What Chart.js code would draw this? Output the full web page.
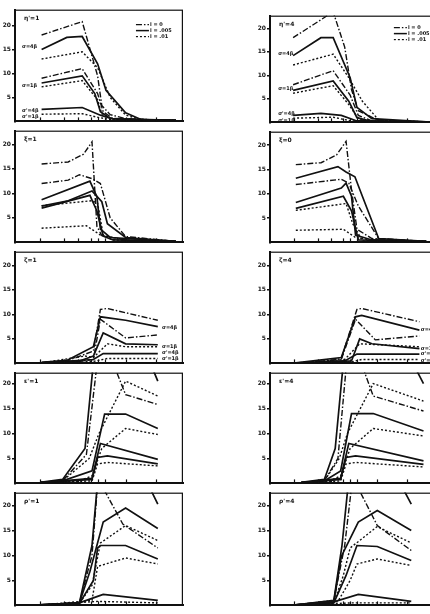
<!DOCTYPE html>
<html>
<head>
<meta charset="utf-8">
<script src="https://cdn.jsdelivr.net/npm/chart.js@4.4.1/dist/chart.umd.min.js"></script>
<style>
  html, body { margin: 0; padding: 0; background: #fff; overflow: hidden; width: 430px; height: 614px; }
  canvas { position: absolute; }
</style>
</head>
<body>
<script>
// ---- data (y in axis units, x in panel units 0..12) ----
const xTicks = [1.8, 3.5, 4.5, 5.4, 5.9, 6.4, 7.9, 10.1];
const yTicks = [5, 10, 15, 20];
const yMax = [23.3, 22.7, 22.8, 22.8, 22.8, 22.8, 22.2, 22.2, 22.6, 22.6];

const panelTitles = ["η'=1", "η'=4", "ξ=1", "ξ=0", "ζ=1", "ζ=4", "ε'=1", "ε'=4", "ρ'=1", "ρ'=4"];
const legendLabels = ["l = 0", "l = .005", "l = .01"];
const groupLabels = ["σ=4β", "σ=1β", "σ'=4β", "σ'=1β"];

// line kinds per series: dd = dash-dot, s = solid, d = dotted
const kindsTop = ["dd", "s", "d", "dd", "s", "d", "s", "d"];
const kindsLow = ["dd", "s", "dd", "s", "d", "s", "d"];
const kindsHigh = ["dd", "s", "d", "s", "d", "s", "s", "d"];

const p1 = [
  [[1.9,18],[4.8,20.8],[5.9,9.5],[6.2,3.3],[6.8,1.4],[8,0.5],[11.5,0.2]],
  [[1.9,15],[3.7,17.5],[4.8,17.7],[5.9,12],[6.5,6.5],[7.9,1.8],[9,0.4],[11.5,0.2]],
  [[1.9,13],[4.8,14.5],[5.9,11.2],[6.8,5],[7.9,1.3],[9,0.4],[11.5,0.2]],
  [[1.9,9],[4.8,11],[5.9,5.8],[6.3,2],[7,0.6],[11.5,0.2]],
  [[1.9,8],[4.8,9.5],[5.7,5.8],[6.1,2],[6.8,0.6],[11.5,0.2]],
  [[1.9,7.2],[4.8,8.5],[5.9,4.5],[6.2,1.6],[7,0.5],[11.5,0.2]],
  [[1.9,2.5],[4.8,2.9],[6.1,1.3],[7,0.5],[11.5,0.2]],
  [[1.9,1.5],[4.8,1.6],[6,0.8],[7,0.3],[11.5,0.1]]
];
const p2 = [
  [[1.7,18],[4.65,23.5],[5.5,16],[6.0,7],[6.5,2.5],[8,0.4],[11.5,0.1]],
  [[1.7,14.2],[3.75,18],[4.65,18],[5.9,9.5],[6.4,3.2],[7.5,0.8],[11.5,0.1]],
  [[1.7,12.2],[4.65,14.5],[5.8,9.5],[6.8,4.5],[8,0.5],[11.5,0.1]],
  [[1.7,8],[4.65,11],[5.9,5.8],[6.5,1.5],[7.5,0.3],[11.5,0.1]],
  [[1.7,6.8],[4.65,8.8],[5.8,4.5],[6.4,1],[7.5,0.2],[11.5,0.1]],
  [[1.7,6.2],[4.65,7.8],[5.8,3.8],[6.5,0.8],[7.5,0.2],[11.5,0.1]],
  [[1.7,1.5],[3.75,1.9],[5.25,1.5],[6.3,0.4],[11.5,0.1]],
  [[1.7,0.9],[4.65,1.1],[6,0.3],[11.5,0.05]]
];
const p3 = [
  [[1.9,16],[3.8,16.4],[4.9,18],[5.5,20.5],[5.85,3.3],[6.2,1.4],[7.9,0.5],[11.5,0.2]],
  [[1.9,7.4],[3.8,8.5],[5.5,10.5],[6.2,8.3],[6.6,3.8],[7.9,1],[11.5,0.2]],
  [[1.9,12],[3.8,12.7],[4.6,13.8],[5.5,13],[6.1,12],[6.8,5],[7.9,1.2],[11.5,0.2]],
  [[1.9,8.7],[5.35,12.5],[5.85,9.3],[6.1,2.7],[6.8,1],[11.5,0.2]],
  [[1.9,7.5],[5.5,8.5],[5.9,8],[6.3,1.5],[7,0.5],[11.5,0.2]],
  [[1.9,7],[5.35,9.6],[5.85,6.4],[6.3,1.3],[7,0.5],[11.5,0.2]],
  [[1.9,2.9],[5.1,3.4],[6.1,1.5],[7.9,0.5],[11.5,0.2]]
];
const p4 = [
  [[1.9,16],[3.76,16.4],[4.9,18],[5.6,20.8],[6.0,10.8],[6.4,2.7],[7.5,0.8],[11.5,0.2]],
  [[1.9,13.2],[5.0,15.6],[5.6,14.5],[6.25,13.5],[6.8,9.5],[8.0,0.8],[11.5,0.2]],
  [[1.9,11.9],[5.25,13],[5.8,12.2],[6.5,7.5],[8.0,0.8],[11.5,0.2]],
  [[1.9,8.2],[5.25,11.2],[5.6,12.2],[6.0,9.5],[6.3,1.5],[7.5,0.5],[11.5,0.2]],
  [[1.9,6.6],[5.6,8],[6.1,3.8],[6.8,0.3],[11.5,0.2]],
  [[1.9,7],[5.4,9.5],[6.0,6.5],[6.5,0.5],[11.5,0.2]],
  [[1.9,2.5],[5.4,2.7],[6.3,1],[8,0.3],[11.5,0.2]]
];
const p5 = [
  [[1.9,0.2],[3.7,0.5],[5.6,2.5],[6.1,11],[6.6,11.2],[10.2,8.8]],
  [[1.9,0.2],[3.7,0.6],[5.6,3.4],[6.1,9.5],[7.9,8.8],[10.2,7.5]],
  [[1.9,0.1],[4.6,0.4],[5.6,0.8],[6.1,9],[7.9,5.2],[10.2,5.8]],
  [[1.9,0.1],[4.6,0.5],[5.6,1.5],[6.3,6.2],[7.9,4],[10.2,3.8]],
  [[1.9,0.1],[5.0,1.5],[5.6,1.2],[6.6,4],[7.9,3.4],[10.2,3.4]],
  [[1.9,0.1],[5.6,0.8],[6.3,2],[10.2,2]],
  [[1.9,0.05],[5.6,0.4],[6.6,1],[10.2,1]]
];
const p6 = [
  [[1.9,0.1],[3.5,0.1],[5.25,1],[6.4,11],[6.75,11.2],[11.0,8.5]],
  [[1.9,0.1],[5.25,1.2],[6.3,9.5],[6.75,9.8],[11.0,6.8]],
  [[1.9,0.1],[5.25,0.8],[6.3,9],[7.75,4.8],[11.0,5.6]],
  [[1.9,0.05],[6.0,0.5],[6.6,5],[7.5,4],[11.0,3]],
  [[1.9,0.05],[5.5,0.8],[6.6,4],[11.0,3.4]],
  [[1.9,0.05],[5.5,0.5],[6.4,1.9],[11.0,1.9]],
  [[1.9,0.05],[6.0,0.3],[6.75,0.8],[11.0,0.8]]
];
const p7 = [
  [[1.8,0.2],[3.4,0.5],[5.1,5.8],[6.2,32],[7.3,22],[7.9,17.8],[10.2,15.8]],
  [[1.8,0.2],[3.4,0.5],[5.5,2.5],[6.4,13.9],[7.9,13.9],[10.2,11]],
  [[1.8,0.2],[3.4,0.5],[5.3,5],[6.0,10],[7.9,20.5],[10.2,17.5]],
  [[1.8,0.1],[5.5,1],[6.1,8],[10.2,4.8]],
  [[1.8,0.1],[4.6,0.5],[5.5,1.5],[6.2,7],[7.9,11],[10.2,9.8]],
  [[1.8,0.1],[5.5,0.8],[5.9,5.2],[6.6,5.5],[10.2,3.9]],
  [[1.8,0.2],[3.4,0.8],[5.0,7],[5.8,30],[8.5,32],[10.2,20.5]],
  [[1.8,0.05],[5.5,0.5],[5.9,3.9],[6.6,4.2],[10.2,3.5]]
];
const p8 = [
  [[2.3,0.2],[4.0,0.5],[5.0,5],[5.9,32],[7.0,22],[7.6,17.5],[11.3,14.5]],
  [[2.3,0.2],[4.0,0.5],[5.2,2.5],[6.0,14],[7.6,14],[11.3,10.5]],
  [[2.3,0.2],[4.0,0.5],[5.1,5],[5.7,10],[7.6,20],[11.3,16.5]],
  [[2.3,0.1],[5.2,1],[5.8,8],[11.3,4.5]],
  [[2.3,0.1],[4.4,0.5],[5.2,1.5],[5.9,7],[7.6,11],[11.3,9.5]],
  [[2.3,0.1],[5.2,0.8],[5.6,5.2],[6.3,5.5],[11.3,3.8]],
  [[2.3,0.2],[4.0,0.8],[4.8,7],[5.6,30],[9,32],[11.3,20]],
  [[2.3,0.05],[5.2,0.5],[5.6,3.9],[6.3,4.2],[11.3,3.3]]
];
const p9 = [
  [[1.8,0.1],[4.6,0.5],[5.5,10],[5.95,26],[6.2,24],[7.7,16.3],[10.2,11.5]],
  [[1.8,0.1],[4.6,0.5],[5.35,6.8],[6.3,16.7],[7.9,19.5],[10.2,15.4]],
  [[1.8,0.1],[4.6,0.4],[5.5,4],[6.1,12.5],[7.9,16],[10.2,13]],
  [[1.8,0.1],[4.6,0.4],[5.6,5],[5.9,11.5],[6.1,12],[7.9,12],[10.2,9.3]],
  [[1.8,0.05],[5.5,1],[5.9,7.8],[7.9,9.5],[10.2,8.3]],
  [[1.8,0.1],[4.6,0.5],[5.9,1.8],[6.3,2.2],[10.2,1]],
  [[1.8,0.1],[4.6,0.5],[5.5,12],[6.0,28],[8.5,30],[10.2,20.3]],
  [[1.8,0.05],[5.9,0.8],[10.2,0.5]]
];
const p10 = [
  [[1.9,0.1],[4.7,1],[5.5,12],[6.1,26],[6.4,24],[7.9,16],[10.4,11]],
  [[1.9,0.1],[4.7,0.8],[5.25,9.8],[6.5,16.7],[7.9,19],[10.4,15]],
  [[1.9,0.1],[4.7,0.5],[5.4,6],[5.9,11.5],[7.9,15.8],[10.4,12.5]],
  [[1.9,0.1],[4.7,0.5],[5.6,6],[6.4,12],[7.9,11.8],[10.4,9]],
  [[1.9,0.05],[5.0,0.8],[5.9,5],[6.4,8.3],[7.9,9.3],[10.4,8]],
  [[1.9,0.1],[4.7,0.7],[6.5,2.2],[10.4,0.8]],
  [[1.9,0.1],[4.7,1],[5.3,12],[5.9,28],[8.5,30],[10.4,20.3]],
  [[1.9,0.05],[6.0,0.5],[10.4,0.5]]
];

const panels = [p1, p2, p3, p4, p5, p6, p7, p8, p9, p10];
const panelKinds = [kindsTop, kindsTop, kindsLow, kindsLow, kindsLow, kindsLow, kindsHigh, kindsHigh, kindsHigh, kindsHigh];

// group labels: [panel, x, y, label index]
const groupNotes = [
  [0, 0.5, 15.6, 0], [0, 0.5, 7.5, 1], [0, 0.5, 2.3, 2], [0, 0.5, 1.0, 3],
  [1, 0.6, 14.7, 0], [1, 0.6, 7.2, 1], [1, 0.6, 1.8, 2], [1, 0.6, 0.4, 3],
  [4, 10.5, 7.3, 0], [4, 10.5, 3.4, 1], [4, 10.5, 2.1, 2], [4, 10.5, 0.9, 3],
  [5, 11.1, 6.8, 0], [5, 11.1, 3.0, 1], [5, 11.1, 1.9, 2], [5, 11.1, 0.6, 3]
];

// ---- layout ----
const leftRows = [[5, 126], [126, 247], [247, 368], [368, 488], [488, 610]];
const rightRows = [[11, 127], [127, 247], [247, 368], [368, 488], [488, 610]];
const dashes = { s: [], d: [2, 2], dd: [6, 2, 1.5, 2] };
const ink = "#111";
const textFont = "bold 6px 'DejaVu Sans'";

const decor = {
  id: "decor",
  afterDraw(chart) {
    const i = chart.options.panelIndex;
    const a = chart.chartArea;
    const ctx = chart.ctx;
    const xs = chart.scales.x, ys = chart.scales.y;
    ctx.save();
    ctx.strokeStyle = ink;
    ctx.lineWidth = 1.2;
    ctx.strokeRect(a.left, a.top + 0.6, a.right - a.left - 0.6, a.bottom - a.top - 0.6);

    // short tick marks standing up from the bottom edge
    ctx.lineWidth = 1.2;
    xTicks.forEach(v => {
      const px = Math.round(xs.getPixelForValue(v)) + 0.5;
      ctx.beginPath();
      ctx.moveTo(px, a.bottom);
      ctx.lineTo(px, a.bottom - 4);
      ctx.stroke();
    });

    ctx.fillStyle = ink;
    ctx.font = textFont;
    ctx.textBaseline = "middle";
    ctx.textAlign = "left";
    ctx.fillText(panelTitles[i], a.left + 9, a.top + 9);

    if (i < 2) {
      const lx = a.left + (a.right - a.left) * (i === 0 ? 0.72 : 0.76);
      const ly = a.top + (i === 0 ? 15 : 12);
      ["dd", "s", "d"].forEach((k, j) => {
        const y = ly + j * 6;
        ctx.setLineDash(dashes[k]);
        ctx.lineWidth = k === "s" ? 1.5 : 1.2;
        ctx.beginPath();
        ctx.moveTo(lx, y);
        ctx.lineTo(lx + 13, y);
        ctx.stroke();
        ctx.setLineDash([]);
        ctx.font = "bold 5px 'DejaVu Sans'";
        ctx.fillText(legendLabels[j], lx + 14, y);
      });
    }

    ctx.font = "bold 5px 'DejaVu Sans'";
    groupNotes.filter(n => n[0] === i).forEach(n => {
      ctx.fillText(groupLabels[n[3]], xs.getPixelForValue(n[1]), ys.getPixelForValue(n[2]));
    });
    ctx.restore();
  }
};

function makePanel(i) {
  const col = i % 2, row = Math.floor(i / 2);
  const box = col === 0 ? leftRows[row] : rightRows[row];
  const cv = document.createElement("canvas");
  const w = col === 0 ? 185 : 178;
  cv.width = w;
  cv.height = box[1] - box[0];
  cv.style.left = (col === 0 ? 0 : 255) + "px";
  cv.style.top = box[0] + "px";
  document.body.appendChild(cv);

  const kinds = panelKinds[i];
  new Chart(cv.getContext("2d"), {
    type: "line",
    data: {
      datasets: panels[i].map((pts, k) => ({
        data: pts.map(p => ({ x: p[0], y: p[1] })),
        borderColor: ink,
        borderWidth: kinds[k] === "s" ? 1.7 : 1.4,
        borderDash: dashes[kinds[k]],
        pointRadius: 0,
        tension: 0,
        fill: false
      }))
    },
    options: {
      panelIndex: i,
      responsive: false,
      animation: false,
      events: [],
      layout: { padding: { left: 0, right: col === 0 ? 2 : 0, top: 0, bottom: 0 } },
      plugins: { legend: { display: false }, tooltip: { enabled: false } },
      scales: {
        x: {
          type: "linear", min: 0, max: 12,
          afterFit: s => { s.height = 0; },
          ticks: { display: false },
          grid: { display: false },
          border: { color: ink, width: 2 }
        },
        y: {
          min: 0, max: yMax[i],
          afterFit: s => { s.width = 15; },
          afterBuildTicks: s => { s.ticks = yTicks.map(v => ({ value: v })); },
          ticks: { color: ink, padding: 1, font: { size: 6, weight: "bold", family: "DejaVu Sans" } },
          grid: { drawOnChartArea: false, tickLength: 3, color: ink, lineWidth: 1.5 },
          border: { color: ink, width: 2 }
        }
      }
    },
    plugins: [decor]
  });
}

for (let i = 0; i < panels.length; i++) makePanel(i);
</script>
</body>
</html>
